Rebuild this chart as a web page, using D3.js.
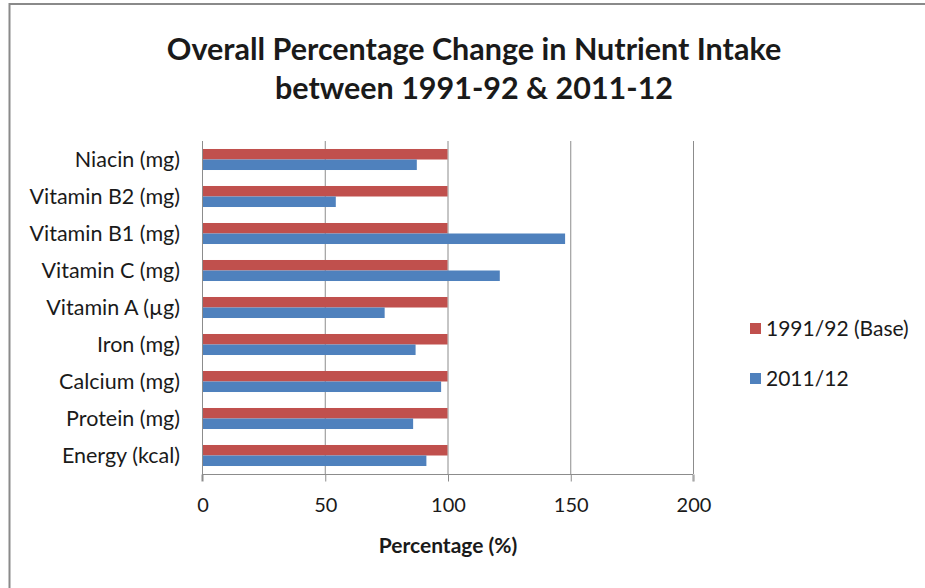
<!DOCTYPE html>
<html>
<head>
<meta charset="utf-8">
<script src="https://cdn.jsdelivr.net/npm/d3@7/dist/d3.min.js"></script>
<style>
  html, body { margin: 0; padding: 0; background: #fff; }
  svg { display: block; }
  text { font-family: Lato, "Open Sans", sans-serif; fill: #1a1a1a; }
</style>
</head>
<body>
<svg id="chart" width="925" height="588"></svg>
<script>
// Nutrients, listed from the bottom row of the chart to the top row
const categories = [
  "Energy (kcal)", "Protein (mg)", "Calcium (mg)", "Iron (mg)", "Vitamin A (µg)",
  "Vitamin C (mg)", "Vitamin B1 (mg)", "Vitamin B2 (mg)", "Niacin (mg)"
];
const seriesNames = ["1991/92 (Base)", "2011/12"];
const baseValues = [100, 100, 100, 100, 100, 100, 100, 100, 100];
const recentValues = [91.4, 86, 97.4, 87, 74.4, 121.3, 147.9, 54.5, 87.5];
const xTicks = [0, 50, 100, 150, 200];
const titleLines = ["Overall Percentage Change in Nutrient Intake", "between 1991-92 & 2011-12"];
const xTitle = "Percentage (%)";
const colors = ["#C0504D", "#4F81BD"];

const svg = d3.select("#chart");

// outer chart frame (left and top edges)
svg.append("path")
  .attr("d", "M9.5,588 L9.5,4 L925,4")
  .attr("fill", "none").attr("stroke", "#8a8a8a").attr("stroke-width", 2);

const plot = { left: 202, right: 693, top: 141, bottom: 474 };

const x = d3.scaleLinear().domain([0, 200]).range([plot.left, plot.right]);
// first category at the bottom
const y = d3.scaleBand().domain(categories).range([plot.bottom, plot.top]).paddingInner(0).paddingOuter(0);
const inner = d3.scaleBand().domain(seriesNames).range([0, y.bandwidth()]).paddingInner(0).paddingOuter(0.76);

// vertical gridlines
svg.append("g").selectAll("line")
  .data(xTicks.filter(t => t > 0))
  .join("line")
  .attr("x1", d => x(d) + 0.5).attr("x2", d => x(d) + 0.5)
  .attr("y1", plot.top).attr("y2", plot.bottom)
  .attr("stroke", "#8c8c8c").attr("stroke-width", 1);

// bars: within each band the base series sits on top
const rows = categories.map((c, i) => ({ c, vals: [baseValues[i], recentValues[i]] }));
const groups = svg.append("g").selectAll("g")
  .data(rows).join("g")
  .attr("transform", d => `translate(0,${y(d.c)})`);
groups.selectAll("rect")
  .data(d => d.vals.map((v, k) => ({ v, k })))
  .join("rect")
  .attr("x", x(0))
  .attr("y", d => inner(seriesNames[d.k]))
  .attr("width", d => x(d.v) - x(0))
  .attr("height", inner.bandwidth())
  .attr("fill", d => colors[d.k]);

// x axis
const xAxis = d3.axisBottom(x).tickValues(xTicks).tickSize(7).tickPadding(16);
const gx = svg.append("g").attr("transform", `translate(0.5,${plot.bottom + 0.5})`).call(xAxis);
gx.select(".domain").attr("stroke", "#8c8c8c").attr("d", `M${x(0)},7V0H${x(200)}V7`).attr("transform", "translate(-0.5,0)");
gx.selectAll(".tick line").attr("stroke", "#8c8c8c");
gx.selectAll(".tick text").attr("font-size", 20).attr("fill", "#1a1a1a")
  .style("font-family", "Lato, sans-serif");

// y axis line
svg.append("line")
  .attr("x1", plot.left + 0.5).attr("x2", plot.left + 0.5)
  .attr("y1", plot.top).attr("y2", plot.bottom + 7)
  .attr("stroke", "#8c8c8c");

// category labels
svg.append("g").selectAll("text")
  .data(categories).join("text")
  .attr("x", 180)
  .attr("y", d => y(d) + y.bandwidth() / 2)
  .attr("dy", "0.35em")
  .attr("text-anchor", "end")
  .attr("font-size", 21.5)
  .text(d => d);

// title
svg.append("g").selectAll("text")
  .data(titleLines).join("text")
  .attr("x", 474)
  .attr("y", (d, i) => 60 + i * 39)
  .attr("text-anchor", "middle")
  .attr("font-size", 30.5)
  .attr("font-weight", "bold")
  .text(d => d);

// axis title
svg.append("text")
  .attr("x", 448).attr("y", 553)
  .attr("text-anchor", "middle")
  .attr("font-size", 21)
  .attr("font-weight", "bold")
  .text(xTitle);

// legend
const legend = svg.append("g").selectAll("g")
  .data(seriesNames).join("g")
  .attr("transform", (d, i) => `translate(750,${323 + i * 50})`);
legend.append("rect")
  .attr("width", 11).attr("height", 11)
  .attr("fill", (d, i) => colors[i]);
legend.append("text")
  .attr("x", 16).attr("y", 6).attr("dy", "0.35em")
  .attr("font-size", 21)
  .text(d => d);
</script>
</body>
</html>
